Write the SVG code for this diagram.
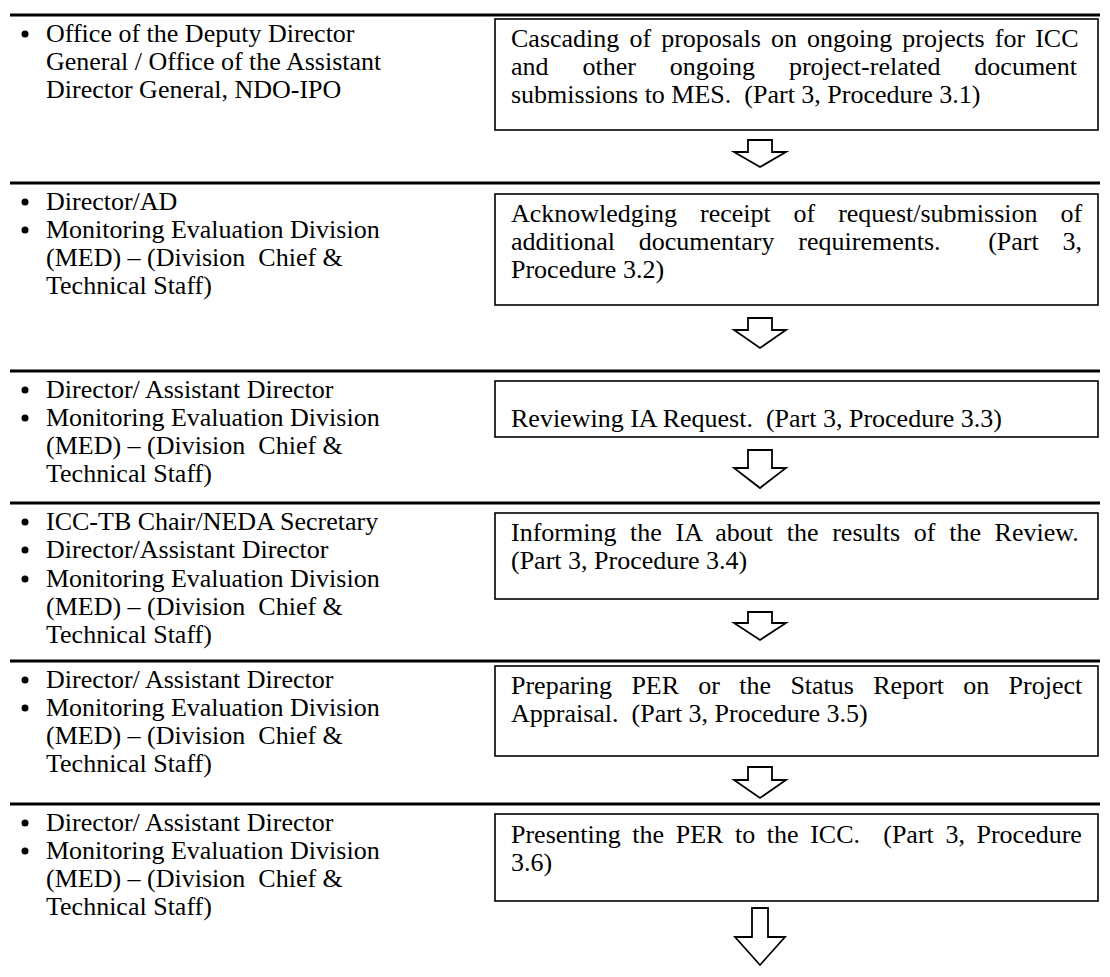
<svg xmlns="http://www.w3.org/2000/svg" width="1110" height="977" viewBox="0 0 1110 977">
<style>
text { font-family: "Liberation Serif", "Times New Roman", serif; font-size: 26px; fill: #000; white-space: pre; }
.sep { stroke: #000; stroke-width: 3; }
.box { fill: #fff; stroke: #000; stroke-width: 1.6; }
.arrow { fill: #fff; stroke: #000; stroke-width: 1.8; stroke-linejoin: miter; }
.dot { fill: #000; }
</style>
<rect width="1110" height="977" fill="#fff"/>
<g id="separators">
<line class="sep" x1="10" y1="15" x2="1100" y2="15"/>
<line class="sep" x1="10" y1="183" x2="1100" y2="183"/>
<line class="sep" x1="10" y1="371" x2="1100" y2="371"/>
<line class="sep" x1="10" y1="503" x2="1100" y2="503"/>
<line class="sep" x1="10" y1="661" x2="1100" y2="661"/>
<line class="sep" x1="10" y1="804" x2="1100" y2="804"/>
</g>
<g id="actors1">
<circle class="dot" cx="25" cy="34" r="3.5"/>
<text x="46" y="42">Office of the Deputy Director</text>
<text x="46" y="70">General / Office of the Assistant</text>
<text x="46" y="98">Director General, NDO-IPO</text>
</g>
<g id="step1">
<rect class="box" x="495" y="19" width="603" height="111"/>
<text x="511" y="47" word-spacing="3.6">Cascading of proposals on ongoing projects for ICC</text>
<text x="511" y="75" word-spacing="27.4">and other ongoing project-related document</text>
<text x="511" y="103">submissions to MES.  (Part 3, Procedure 3.1)</text>
</g>
<g id="actors2">
<circle class="dot" cx="25" cy="202" r="3.5"/>
<text x="46" y="210">Director/AD</text>
<circle class="dot" cx="25" cy="230" r="3.5"/>
<text x="46" y="238">Monitoring Evaluation Division</text>
<text x="46" y="266">(MED) – (Division  Chief &amp;</text>
<text x="46" y="294">Technical Staff)</text>
</g>
<g id="step2">
<rect class="box" x="495" y="194" width="603" height="111"/>
<text x="511" y="222" word-spacing="16.4">Acknowledging receipt of request/submission of</text>
<text x="511" y="250" word-spacing="17.3">additional documentary requirements.  (Part 3,</text>
<text x="511" y="278">Procedure 3.2)</text>
</g>
<g id="actors3">
<circle class="dot" cx="25" cy="390" r="3.5"/>
<text x="46" y="398">Director/ Assistant Director</text>
<circle class="dot" cx="25" cy="418" r="3.5"/>
<text x="46" y="426">Monitoring Evaluation Division</text>
<text x="46" y="454">(MED) – (Division  Chief &amp;</text>
<text x="46" y="482">Technical Staff)</text>
</g>
<g id="step3">
<rect class="box" x="495" y="381" width="603" height="56"/>
<text x="511" y="427">Reviewing IA Request.  (Part 3, Procedure 3.3)</text>
</g>
<g id="actors4">
<circle class="dot" cx="25" cy="522" r="3.5"/>
<text x="46" y="530">ICC-TB Chair/NEDA Secretary</text>
<circle class="dot" cx="25" cy="550" r="3.5"/>
<text x="46" y="558">Director/Assistant Director</text>
<circle class="dot" cx="25" cy="579" r="3.5"/>
<text x="46" y="587">Monitoring Evaluation Division</text>
<text x="46" y="615">(MED) – (Division  Chief &amp;</text>
<text x="46" y="643">Technical Staff)</text>
</g>
<g id="step4">
<rect class="box" x="495" y="513" width="603" height="86"/>
<text x="511" y="541" word-spacing="7.2">Informing the IA about the results of the Review.</text>
<text x="511" y="569">(Part 3, Procedure 3.4)</text>
</g>
<g id="actors5">
<circle class="dot" cx="25" cy="680" r="3.5"/>
<text x="46" y="688">Director/ Assistant Director</text>
<circle class="dot" cx="25" cy="708" r="3.5"/>
<text x="46" y="716">Monitoring Evaluation Division</text>
<text x="46" y="744">(MED) – (Division  Chief &amp;</text>
<text x="46" y="772">Technical Staff)</text>
</g>
<g id="step5">
<rect class="box" x="495" y="666" width="603" height="90"/>
<text x="511" y="694" word-spacing="12.8">Preparing PER or the Status Report on Project</text>
<text x="511" y="722">Appraisal.  (Part 3, Procedure 3.5)</text>
</g>
<g id="actors6">
<circle class="dot" cx="25" cy="823" r="3.5"/>
<text x="46" y="831">Director/ Assistant Director</text>
<circle class="dot" cx="25" cy="851" r="3.5"/>
<text x="46" y="859">Monitoring Evaluation Division</text>
<text x="46" y="887">(MED) – (Division  Chief &amp;</text>
<text x="46" y="915">Technical Staff)</text>
</g>
<g id="step6">
<rect class="box" x="495" y="814" width="603" height="87"/>
<text x="511" y="843" word-spacing="5.1">Presenting the PER to the ICC.  (Part 3, Procedure</text>
<text x="511" y="871">3.6)</text>
</g>
<g id="connectors">
<path class="arrow" d="M748,140 L772,140 L772,152 L786,152 L760,167 L734,152 L748,152 Z"/>
<path class="arrow" d="M748,318 L772,318 L772,330 L786,330 L760,348 L734,330 L748,330 Z"/>
<path class="arrow" d="M748,450 L772,450 L772,468 L786,468 L760,488 L734,468 L748,468 Z"/>
<path class="arrow" d="M748,612 L772,612 L772,623 L786,623 L760,640 L734,623 L748,623 Z"/>
<path class="arrow" d="M748,767 L772,767 L772,780 L786,780 L760,798 L734,780 L748,780 Z"/>
<path class="arrow" d="M752,908 L768,908 L768,937 L785,937 L760,965 L735,937 L752,937 Z"/>
</g>
</svg>
